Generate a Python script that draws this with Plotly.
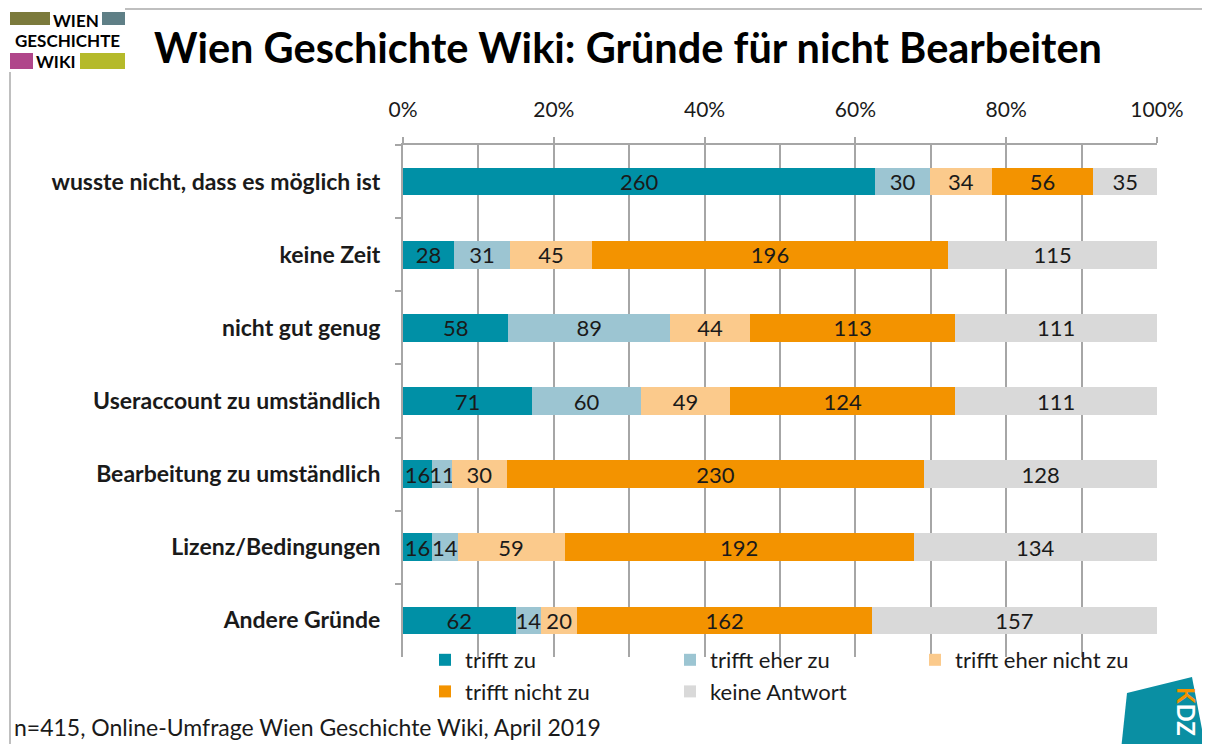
import plotly.graph_objects as go

categories = ['wusste nicht, dass es möglich ist', 'keine Zeit', 'nicht gut genug',
              'Useraccount zu umständlich', 'Bearbeitung zu umständlich',
              'Lizenz/Bedingungen', 'Andere Gründe']
series_names = ['trifft zu', 'trifft eher zu', 'trifft eher nicht zu',
                'trifft nicht zu', 'keine Antwort']
trifft_zu = [260, 28, 58, 71, 16, 16, 62]
trifft_eher_zu = [30, 31, 89, 60, 11, 14, 14]
trifft_eher_nicht_zu = [34, 45, 44, 49, 30, 59, 20]
trifft_nicht_zu = [56, 196, 113, 124, 230, 192, 162]
keine_antwort = [35, 115, 111, 111, 128, 134, 157]
pct_ticks = [0, 20, 40, 60, 80, 100]

colors = ['#0090A6', '#9CC5D2', '#FBCA8C', '#F39300', '#D9D9D9']
FONT = 'Lato, Open Sans, sans-serif'
LOGO_FONT = 'Lato, sans-serif'

W, H = 1210, 744
OFF = 8  # page body margin
L, R, T, B = 403, 1157, 145, 657   # plot area in screen pixels


def px(x):
    return (x - L) / (R - L)


def py(y):
    return (B - y) / (B - T)


fig = go.Figure()
for name, vals, col in zip(series_names,
                           [trifft_zu, trifft_eher_zu, trifft_eher_nicht_zu,
                            trifft_nicht_zu, keine_antwort], colors):
    fig.add_trace(go.Bar(
        y=categories, x=vals, name=name, orientation='h',
        marker=dict(color=col, line=dict(width=0)),
        text=vals, textposition='inside', insidetextanchor='middle',
        textangle=0, textfont=dict(color='#1a1a1a', size=22, family=FONT),
    ))


def box(x0, x1, y0, y1, color):
    return dict(type='rect', xref='paper', yref='paper', x0=px(x0), x1=px(x1),
                y0=py(y0), y1=py(y1), fillcolor=color, line=dict(width=0))


def note(text, x, y, size, color='#1a1a1a', family=FONT, weight='normal',
         xanchor='center', angle=0):
    return dict(text=text, x=px(x), y=py(y), xref='paper', yref='paper',
                xanchor=xanchor, yanchor='middle', showarrow=False, textangle=angle,
                font=dict(family=family, size=size, color=color, weight=weight))


shapes = [
    dict(type='line', xref='paper', yref='paper', x0=px(125), x1=px(1215),
         y0=py(9), y1=py(9), line=dict(color='#bfbfbf', width=2)),
    dict(type='line', xref='paper', yref='paper', x0=px(10), x1=px(10),
         y0=py(72), y1=py(750), line=dict(color='#bfbfbf', width=2)),
    box(10, 50, 12, 25, '#7B7A3C'),
    box(102, 125, 12, 25, '#5F7F86'),
    box(10, 33, 53, 69, '#B0468A'),
    box(80, 125, 53, 69, '#B5BA2A'),
    dict(type='path', xref='paper', yref='paper',
         path='M {} {} L {} {} L {} {} L {} {} Z'.format(
             px(1127), py(693), px(1192), py(677), px(1206), py(750), px(1121), py(750)),
         fillcolor='#0A8FA3', line=dict(width=0)),
]

annotations = [
    note('WIEN', 76, 20, 17, 'black', LOGO_FONT, 'bold'),
    note('GESCHICHTE', 67, 40, 17, 'black', LOGO_FONT, 'bold'),
    note('WIKI', 56, 61, 17, 'black', LOGO_FONT, 'bold'),
    note('Wien Geschichte Wiki: Gründe für nicht Bearbeiten', 152, 47, 41.5,
         'black', FONT, 'bold', 'left'),
    note('n=415, Online-Umfrage Wien Geschichte Wiki, April 2019', 12, 727, 23,
         '#1a1a1a', FONT, 'normal', 'left'),
    note('<span style="color:#F39300">K</span>DZ', 1187, 711, 24, 'white',
         FONT, 'bold', 'center', 90),
]

fig.update_layout(
    barmode='stack', barnorm='percent', bargap=0.62,
    width=W, height=H,
    margin=dict(l=L - OFF, r=W - (R - OFF), t=T - OFF, b=H - (B - OFF)),
    paper_bgcolor='white', plot_bgcolor='white',
    font=dict(family=FONT, size=21, color='#1a1a1a'),
    uniformtext=dict(minsize=22, mode='show'),
    xaxis=dict(side='top', range=[0, 100], tickvals=pct_ticks,
               ticktext=[f'{v}%' for v in pct_ticks],
               tickfont=dict(family=FONT, size=21, color='#1a1a1a'),
               showgrid=True, gridcolor='#a6a6a6', gridwidth=2,
               minor=dict(dtick=10, showgrid=True, gridcolor='#a6a6a6', gridwidth=2),
               showline=True, linecolor='#a6a6a6', linewidth=2,
               ticks='outside', ticklen=6, tickcolor='#a6a6a6', tickwidth=2,
               ticklabelstandoff=12, automargin=False,
               zeroline=False, fixedrange=True),
    yaxis=dict(autorange='reversed', showline=True, linecolor='#a6a6a6', linewidth=2,
               ticks='outside', tickson='boundaries', ticklen=6, tickcolor='#a6a6a6',
               tickwidth=2, ticklabelstandoff=16, automargin=False,
               tickfont=dict(family=FONT, size=23, color='#1a1a1a', weight='bold')),
    legend=dict(orientation='h', x=px(425), y=py(639), xanchor='left', yanchor='top',
                entrywidth=200, entrywidthmode='pixels', traceorder='normal',
                font=dict(family=FONT, size=22, color='#1a1a1a'),
                bgcolor='rgba(0,0,0,0)', tracegroupgap=0),
    shapes=shapes, annotations=annotations, showlegend=True,
)

fig.write_html('out.html')
